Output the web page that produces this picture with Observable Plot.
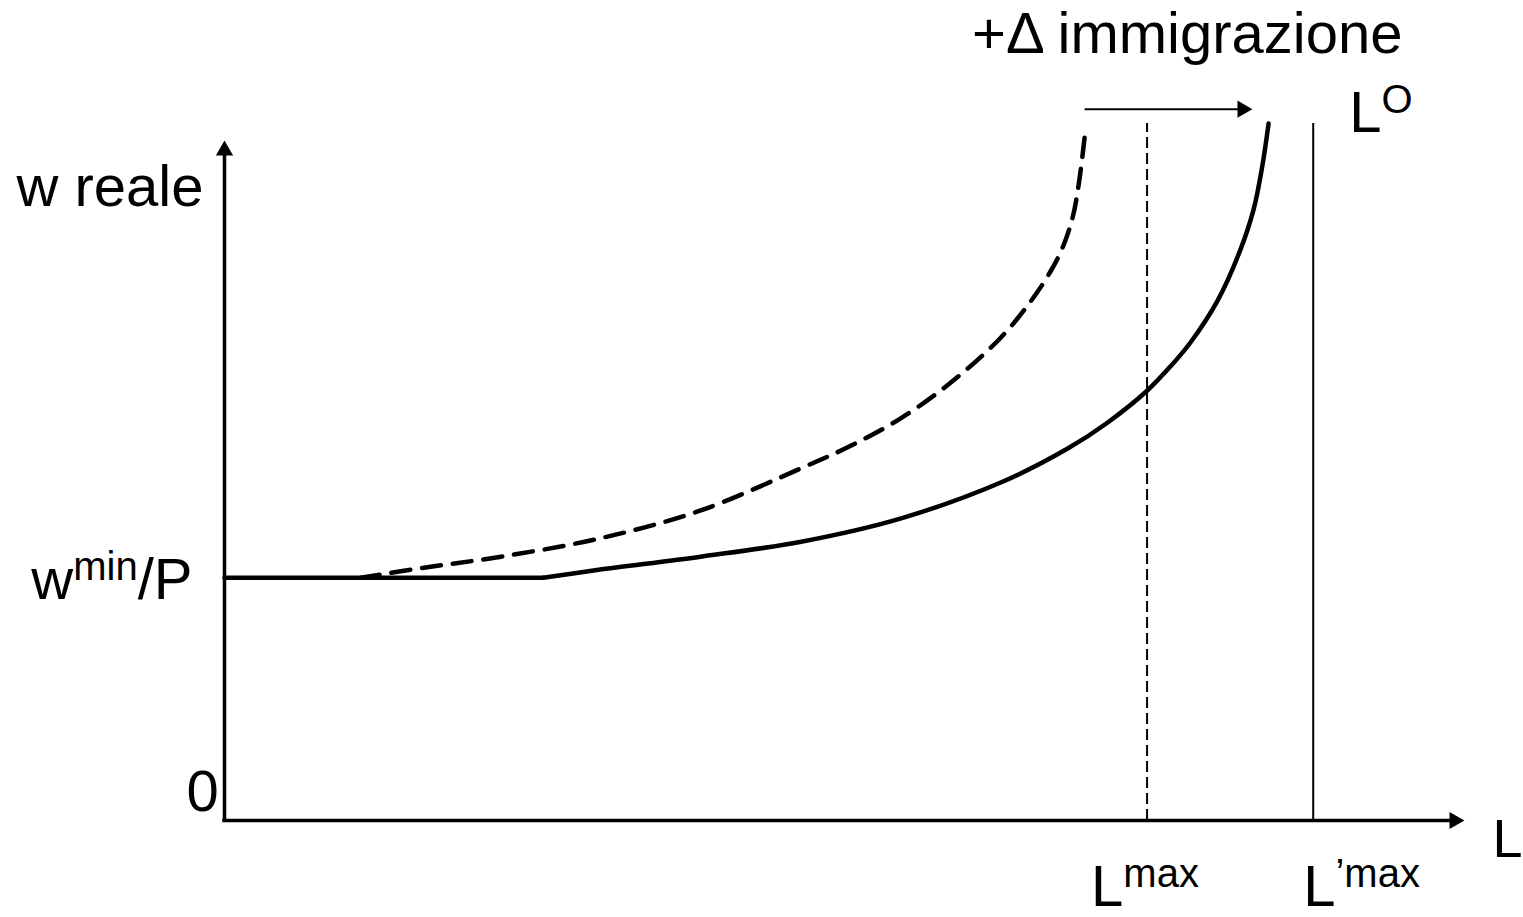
<!DOCTYPE html>
<html><head><meta charset="utf-8">
<script src="https://cdn.jsdelivr.net/npm/d3@7"></script>
<script src="https://cdn.jsdelivr.net/npm/@observablehq/plot@0.6"></script>
<style>html,body{margin:0;padding:0;background:#fff;} svg{display:block}</style>
</head><body><div id="chart"></div>
<script>
// ---- data (diagram units: L on x 0..100, real wage on y 0..120) ----
const wageMin = 35.7;        // w^min / P
const lMax = 74.4;           // L^max
const lMaxNew = 87.8;        // L'max
const axisEnd = 100;         // arrow tips of both axes
const lineTop = 102.5;       // top of vertical L lines
const shiftY = 104.6;        // height of the immigration arrow
const shiftFrom = 69.4;
const shiftTo = 82.9;

// original labour supply curve (solid)
const curveL = [25.7, 30.3, 38.4, 46.5, 54.5, 62.6, 68.0, 71.2, 74.4, 76.3, 77.9, 80.1, 81.9, 83.0, 83.7, 84.2];
const curveW = [35.7, 36.9, 38.8, 41.0, 44.4, 49.7, 54.7, 58.5, 63.2, 66.8, 70.3, 76.5, 83.8, 89.9, 96.3, 102.5];
// dashed curve
const dashedL = [11.0, 15.8, 22.3, 30.3, 38.4, 46.5, 50.5, 54.5, 58.5, 62.6, 65.0, 66.6, 67.6, 68.4, 68.9, 69.4];
const dashedW = [35.7, 37.1, 38.8, 41.5, 45.6, 51.8, 55.1, 59.1, 64.3, 71.0, 76.3, 80.7, 84.3, 88.7, 93.7, 101.0];

// labels (^{...} = superscript)
const yTitle = "w reale";
const xTitle = "L";
const originLabel = "0";
const wageLabel = "w^{min}/P";
const lMaxLabel = "L^{max}";
const lMaxNewLabel = "L^{\u2019max}";
const supplyLabel = "L^{O}";
const shiftLabel = "+\u0394 immigrazione";

const solid = curveL.map((l, i) => ({l, w: curveW[i]}));
const dashed = dashedL.map((l, i) => ({l, w: dashedW[i]}));
const floor = [{l: 0, w: wageMin}, {l: curveL[0], w: wageMin}];

const FONT = "Liberation Sans, Arial, Helvetica, sans-serif";
function label(text, x, y, dx, dy, size, anchor) {
  return Plot.text([text], {x, y, text: d => d, dx, dy, fontSize: size,
    textAnchor: anchor, lineAnchor: "bottom", fill: "black", fontFamily: FONT});
}
function head(x, y, rotate, dx, dy) {
  return Plot.dot([0], {x, y, symbol: "triangle", r: 6.4, rotate, dx, dy, fill: "black", stroke: "none"});
}

const chart = Plot.plot({
  width: 1523, height: 917,
  marginLeft: 224, marginRight: 59, marginTop: 4, marginBottom: 97,
  x: {domain: [0, 100], axis: null},
  y: {domain: [0, 120], axis: null},
  style: {background: "white", fontFamily: FONT},
  marks: [
    // axes
    Plot.ruleX([0], {x: 0, y1: 0, y2: axisEnd - 1, stroke: "black", strokeWidth: 3.5, insetBottom: -1.75}),
    Plot.ruleY([0], {y: 0, x1: 0, x2: axisEnd - 1, stroke: "black", strokeWidth: 3.5, insetLeft: -1.75}),
    head(0, axisEnd, 0, 0, 10),
    head(axisEnd, 0, 90, -10, 0),
    // vertical limits
    Plot.ruleX([lMax], {x: d => d, y1: 0, y2: lineTop, stroke: "black", strokeWidth: 2, strokeDasharray: "11,5"}),
    Plot.ruleX([lMaxNew], {x: d => d, y1: 0, y2: lineTop, stroke: "black", strokeWidth: 2}),
    // immigration arrow
    Plot.ruleY([shiftY], {y: d => d, x1: shiftFrom, x2: shiftTo - 0.5, stroke: "black", strokeWidth: 2}),
    head(shiftTo, shiftY, 90, -10, 0),
    // curves
    Plot.line(floor, {x: "l", y: "w", stroke: "black", strokeWidth: 4.5}),
    Plot.line(dashed, {x: "l", y: "w", stroke: "black", strokeWidth: 4.5, strokeDasharray: "19,12", curve: "catmull-rom"}),
    Plot.line(solid, {x: "l", y: "w", stroke: "black", strokeWidth: 4.5, curve: "catmull-rom"}),
    // labels
    label(yTitle, 0, axisEnd, -21, 65, 58, "end"),
    label(wageLabel, 0, wageMin, -32, 21, 58, "end"),
    label(originLabel, 0, 0, -22, -10, 58, "middle"),
    label(xTitle, axisEnd, 0, 28, 36, 54, "start"),
    label(supplyLabel, lMaxNew, lineTop, 36, 8, 58, "start"),
    label(shiftLabel, shiftFrom, shiftY, -113, -56, 58, "start"),
    label(lMaxLabel, lMax, 0, -56, 85, 58, "start"),
    label(lMaxNewLabel, lMaxNew, 0, -10, 85, 58, "start")
  ]
});

// turn ^{...} parts into superscript tspans
const NS = "http://www.w3.org/2000/svg";
chart.querySelectorAll("text").forEach(t => {
  const s = t.textContent;
  if (!s.includes("^{")) return;
  const parts = s.split(/(\^\{[^}]*\})/).filter(p => p.length);
  t.textContent = "";
  let raised = false;
  parts.forEach(p => {
    const span = document.createElementNS(NS, "tspan");
    if (p.startsWith("^{")) {
      span.textContent = p.slice(2, -1);
      span.setAttribute("font-size", "40");
      span.setAttribute("dy", "-19");
      raised = true;
    } else {
      span.textContent = p;
      if (raised) { span.setAttribute("dy", "19"); raised = false; }
    }
    t.appendChild(span);
  });
});
document.getElementById("chart").appendChild(chart);
</script>
</body></html>
